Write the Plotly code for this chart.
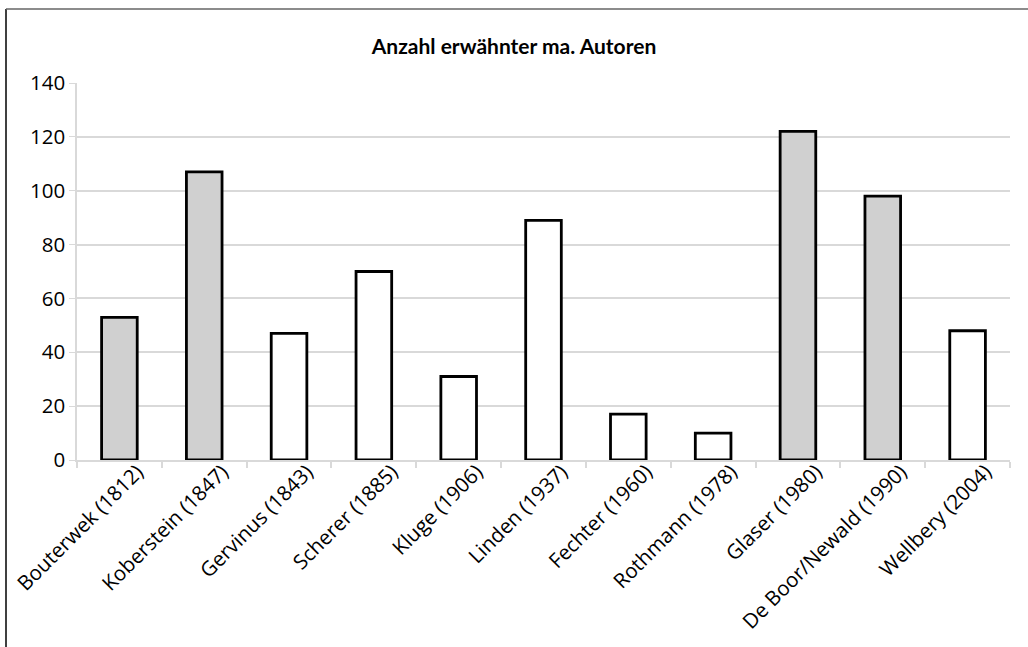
import plotly.graph_objects as go

# Literaturgeschichten und Anzahl der erwähnten mittelalterlichen Autoren
categories = [
    "Bouterwek (1812)", "Koberstein (1847)", "Gervinus (1843)", "Scherer (1885)",
    "Kluge (1906)", "Linden (1937)", "Fechter (1960)", "Rothmann (1978)",
    "Glaser (1980)", "De Boor/Newald (1990)", "Wellbery (2004)",
]
values = [53, 107, 47, 70, 31, 89, 17, 10, 122, 98, 48]
highlighted = [True, True, False, False, False, False, False, False, True, True, False]

y_ticks = [0, 20, 40, 60, 80, 100, 120, 140]
title_text = "Anzahl erwähnter ma. Autoren"

fill_colors = ["#d0d0d0" if h else "#ffffff" for h in highlighted]

fig = go.Figure(
    go.Bar(
        x=categories,
        y=values,
        marker=dict(color=fill_colors, line=dict(color="#000000", width=2.8)),
        hoverinfo="x+y",
    )
)

W, H = 1028, 647
L, R, T, B = 77, 18, 83, 187
plot_w = W - L - R
plot_h = H - T - B

def px_to_paper_x(px):
    return (px - L) / plot_w

def px_to_paper_y(py):
    return (H - B - py) / plot_h

fig.update_layout(
    width=W,
    height=H,
    margin=dict(l=L, r=R, t=T, b=B, autoexpand=False),
    paper_bgcolor="#ffffff",
    plot_bgcolor="#ffffff",
    bargap=0.58,
    showlegend=False,
    title=dict(
        text="<b>" + title_text + "</b>",
        x=0.5,
        xref="container",
        xanchor="center",
        y=1 - 47 / H,
        yanchor="middle",
        font=dict(family="Lato", size=21, color="#000000"),
    ),
    font=dict(family="Open Sans", color="#000000"),
    xaxis=dict(
        automargin=False,
        tickangle=-45,
        tickfont=dict(family="Open Sans", size=20.5, color="#000000"),
        ticklabelshift=18,
        ticklabelstandoff=-10,
        showline=True,
        linecolor="#d9d9d9",
        linewidth=1.5,
        ticks="outside",
        tickson="boundaries",
        ticklen=6,
        tickcolor="#d9d9d9",
        tickwidth=1.5,
        showgrid=False,
    ),
    yaxis=dict(
        automargin=False,
        range=[0, 140],
        tickvals=y_ticks,
        tickfont=dict(family="Open Sans", size=20.5, color="#000000"),
        showgrid=True,
        gridcolor="#d9d9d9",
        gridwidth=1.5,
        showline=True,
        linecolor="#d9d9d9",
        linewidth=1.5,
        ticks="outside",
        ticklen=6,
        tickcolor="#d9d9d9",
        zeroline=False,
    ),
)

# outer chart frame (left and top edges visible)
fig.add_shape(
    type="line", xref="paper", yref="paper",
    x0=px_to_paper_x(6), x1=px_to_paper_x(6),
    y0=px_to_paper_y(H + 5), y1=px_to_paper_y(9),
    line=dict(color="#000000", width=1.5),
)
fig.add_shape(
    type="line", xref="paper", yref="paper",
    x0=px_to_paper_x(6), x1=px_to_paper_x(W + 5),
    y0=px_to_paper_y(9), y1=px_to_paper_y(9),
    line=dict(color="#666666", width=1.5),
)

fig.write_html("out.html")
